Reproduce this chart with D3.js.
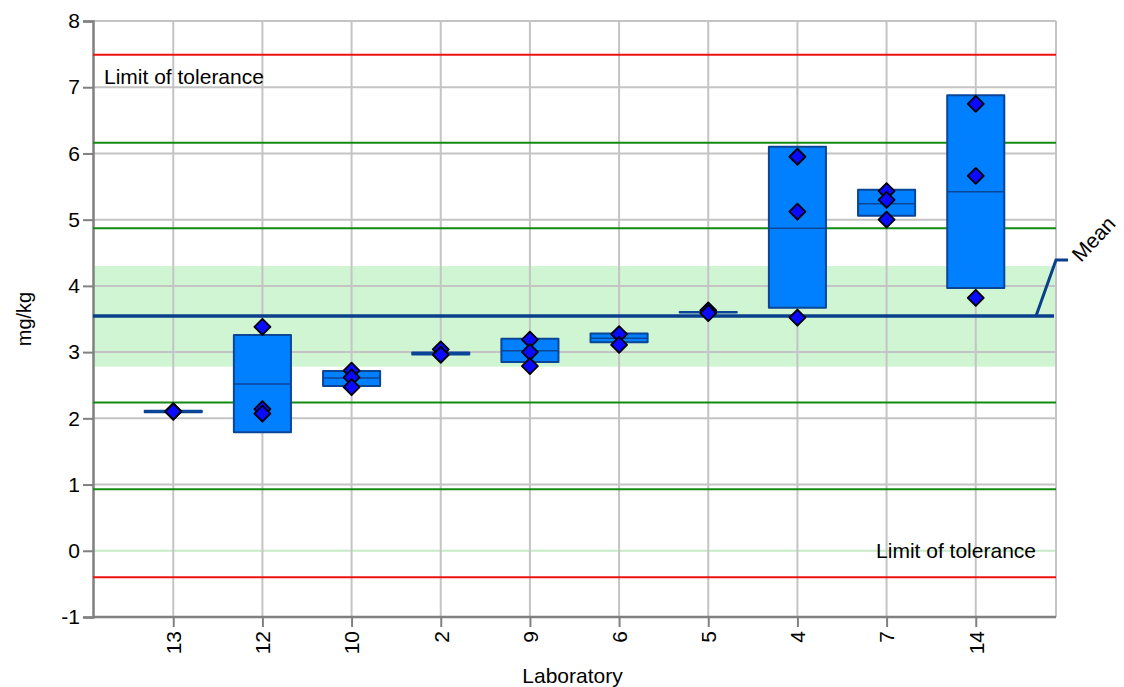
<!DOCTYPE html>
<html><head><meta charset="utf-8">
<script src="https://cdn.jsdelivr.net/npm/d3@7"></script>
<style>body{margin:0;background:#fff} text{font-family:"Liberation Sans",Arial,sans-serif}</style>
</head><body><svg id="c" width="1124" height="687"></svg>
<script>
const labs = ["13","12","10","2","9","6","5","4","7","14"];
const boxLow  = [2.09, 1.79, 2.49, 2.965,2.85, 3.15, 3.605, 3.67, 5.06, 3.97];
const boxMid  = [2.10, 2.52, 2.61, 2.98, 3.02, 3.21, 3.605, 4.87, 5.24, 5.42];
const boxHigh = [2.115,3.26, 2.715,2.995,3.20, 3.28, 3.605, 6.10, 5.45, 6.88];
const points = [[2.11,2.10,2.10],[3.38,2.14,2.07],[2.72,2.62,2.47],[3.04,2.96],[3.19,3.00,2.79],[3.27,3.11],[3.63,3.59],[5.95,5.12,3.52],[5.43,5.30,5.00],[6.75,5.66,3.82]];
const yTicks = [-1,0,1,2,3,4,5,6,7,8];
const meanValue = 3.545;
const meanLabelLevel = 4.39;
const toleranceLimits = [7.49,-0.40];
const greenLines = [6.16,4.87,2.24,0.93];
const band = [2.78,4.30];

const W=1124,H=687, m={l:93,r:68,t:21,b:70};
const FS=21;
const svg=d3.select("#c");
const x=d3.scalePoint().domain(labs).range([m.l,W-m.r]).padding(0.9);
const y=d3.scaleLinear().domain([-1,8]).range([H-m.b,m.t]);
const step=x.step(), bw=step*0.64;
const L=m.l,R=W-m.r;

// band
svg.append("rect").attr("x",L).attr("width",R-L).attr("y",y(band[1])).attr("height",y(band[0])-y(band[1])).attr("fill","#d0f5d2");
// horizontal grid
svg.append("g").selectAll("line").data(yTicks).join("line")
  .attr("x1",L).attr("x2",R).attr("y1",d=>y(d)).attr("y2",d=>y(d))
  .attr("stroke",d=>d===0?"#c6ebc6":"#c4c4c4").attr("stroke-width",2);
// vertical grid
svg.append("g").selectAll("line").data(labs).join("line")
  .attr("x1",d=>x(d)).attr("x2",d=>x(d)).attr("y1",y(8)).attr("y2",y(-1))
  .attr("stroke","#c4c4c4").attr("stroke-width",2);
svg.append("line").attr("x1",R).attr("x2",R).attr("y1",y(8)).attr("y2",y(-1)).attr("stroke","#c4c4c4").attr("stroke-width",2);

// axes
const yAxis=svg.append("g").attr("transform",`translate(${L},0)`).call(d3.axisLeft(y).tickValues(yTicks).tickFormat(d=>String(d)).tickSize(10).tickPadding(3));
const xAxis=svg.append("g").attr("transform",`translate(0,${H-m.b})`).call(d3.axisBottom(x).tickSize(10).tickSizeOuter(0).tickPadding(4));
[yAxis,xAxis].forEach(a=>{a.select(".domain").attr("stroke","#808080").attr("stroke-width",2.5);
  a.selectAll(".tick line").attr("stroke","#808080").attr("stroke-width",2);
  a.selectAll("text").attr("font-size",FS).attr("fill","#000").attr("font-family",'"Liberation Sans",Arial,sans-serif');});
xAxis.select(".domain").attr("d",`M${L},0H${R}`);
xAxis.selectAll(".tick text").attr("transform","rotate(-90)").attr("text-anchor","end").attr("dy","0.35em").attr("x",-14).attr("y",0);

// reference lines
svg.append("g").selectAll("line").data(greenLines).join("line")
  .attr("x1",L).attr("x2",R).attr("y1",d=>y(d)).attr("y2",d=>y(d)).attr("stroke","#138a13").attr("stroke-width",2);
svg.append("g").selectAll("line").data(toleranceLimits).join("line")
  .attr("x1",L).attr("x2",R).attr("y1",d=>y(d)).attr("y2",d=>y(d)).attr("stroke","#ee1111").attr("stroke-width",2);

// tolerance labels
svg.append("text").attr("x",L+11).attr("y",y(toleranceLimits[0])+29).attr("font-size",FS).text("Limit of tolerance");
svg.append("text").attr("x",R-20).attr("y",y(toleranceLimits[1])-19).attr("font-size",FS).attr("text-anchor","end").text("Limit of tolerance");

// mean line + label
svg.append("line").attr("x1",L).attr("x2",R-2).attr("y1",y(meanValue)).attr("y2",y(meanValue)).attr("stroke","#0a3f8c").attr("stroke-width",3.5);
svg.append("path").attr("d",`M${R-20},${y(meanValue)}L${R},${y(meanLabelLevel)}H${R+12}`).attr("fill","none").attr("stroke","#0a3f8c").attr("stroke-width",3);
svg.append("text").attr("transform",`translate(${R+25},${y(meanLabelLevel)+3}) rotate(-47)`).attr("font-size",FS).text("Mean");

// boxes
const g=svg.append("g");
labs.forEach((lab,i)=>{
  const cx=x(lab);
  g.append("rect").attr("x",cx-bw/2).attr("width",bw).attr("y",y(boxHigh[i])).attr("height",Math.max(0.5,y(boxLow[i])-y(boxHigh[i])))
   .attr("fill","#0080ff").attr("stroke","#0b4596").attr("stroke-width",2).attr("stroke-linejoin","round");
  g.append("line").attr("x1",cx-bw/2).attr("x2",cx+bw/2).attr("y1",y(boxMid[i])).attr("y2",y(boxMid[i])).attr("stroke","#0b4596").attr("stroke-width",1.5);
});
// diamonds
const pts=[];labs.forEach((lab,i)=>points[i].forEach(v=>pts.push({lab,v})));
svg.append("g").selectAll("path").data(pts).join("path")
  .attr("d",d=>{const cx=x(d.lab),cy=y(d.v),r=8;return `M${cx},${cy-r}L${cx+r},${cy}L${cx},${cy+r}L${cx-r},${cy}Z`;})
  .attr("fill","#0a0aff").attr("stroke","#000").attr("stroke-width",1.8).attr("stroke-linejoin","round");

// axis titles
svg.append("text").attr("x",(L+R)/2-2).attr("y",H-4).attr("text-anchor","middle").attr("font-size",FS).text("Laboratory");
svg.append("text").attr("transform",`translate(31,${y(3.5)}) rotate(-90)`).attr("text-anchor","middle").attr("font-size",FS-1).text("mg/kg");
</script></body></html>
